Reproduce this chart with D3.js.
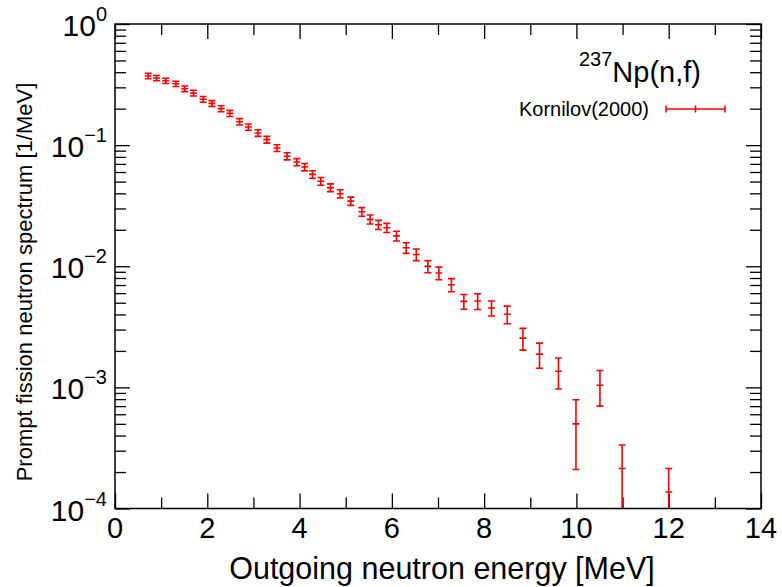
<!DOCTYPE html>
<html><head><meta charset="utf-8">
<script src="https://cdn.jsdelivr.net/npm/d3@7"></script>
<style>
body{margin:0;background:#fff}
svg text{font-family:"Liberation Sans",Arial,Helvetica,sans-serif;fill:#000}
</style></head><body>
<svg id="chart" width="782" height="587"></svg>
<script>
// Kornilov(2000) 237Np(n,f) prompt fission neutron spectrum
const energy = [0.72,0.90,1.10,1.32,1.51,1.70,1.91,2.10,2.30,2.49,2.70,2.89,3.10,3.29,3.51,3.73,3.94,4.11,4.28,4.46,4.67,4.88,5.11,5.35,5.53,5.71,5.89,6.10,6.31,6.53,6.78,7.02,7.29,7.56,7.86,8.16,8.50,8.84,9.20,9.61,9.99,10.51,10.99,12.00];
const spectrum = [0.372,0.358,0.340,0.321,0.292,0.269,0.239,0.221,0.200,0.183,0.156,0.141,0.126,0.111,0.0946,0.0810,0.0725,0.0659,0.0574,0.0503,0.0446,0.0397,0.0345,0.0282,0.0244,0.0220,0.0208,0.0178,0.0142,0.0125,0.00998,0.00879,0.00703,0.00513,0.00516,0.00452,0.00402,0.00255,0.00188,0.00136,0.000500,0.00104,0.000214,0.000137];
const spectrumErr = [0.019,0.018,0.017,0.016,0.0155,0.0148,0.0131,0.0122,0.0114,0.0106,0.0094,0.0085,0.0078,0.0072,0.0061,0.0055,0.0049,0.0046,0.0041,0.0037,0.0033,0.0031,0.0027,0.0023,0.0021,0.0019,0.0018,0.00166,0.00142,0.00138,0.00115,0.00105,0.00088,0.00072,0.00077,0.00064,0.00067,0.00052,0.00044,0.00039,0.00029,0.00034,0.00012,0.000077];
const xTicks = [0,2,4,6,8,10,12,14];
const xMinor = [1,3,5,7,9,11,13];
const yDecades = [1e-4,1e-3,1e-2,1e-1,1];
const seriesName = "Kornilov(2000)";

const W = 782, H = 587;
const L = 115, R = 761, T = 24, B = 508.5;
const RED = "#ff0000";

const x = d3.scaleLinear().domain([0, 14]).range([L, R]);
const y = d3.scaleLog().domain([1e-4, 1]).range([B, T]);

const svg = d3.select("#chart");

// minor y ticks 2..9 per decade
const yMinor = [];
yDecades.slice(0, -1).forEach(d => { for (let k = 2; k <= 9; k++) yMinor.push(d * k); });

function tickAxis(gen, vals, size, tr) {
  const g = svg.append("g").attr("transform", tr)
    .call(gen.tickValues(vals).tickSize(-size).tickFormat(""));
  g.select(".domain").remove();
  g.selectAll("line").attr("stroke", "#000").attr("stroke-width", 1.3);
  return g;
}
// mirrored ticks on all four sides
tickAxis(d3.axisBottom(x), xTicks, 15, `translate(0,${B})`);
tickAxis(d3.axisBottom(x), xMinor, 11, `translate(0,${B})`);
tickAxis(d3.axisTop(x), xTicks, 15, `translate(0,${T})`);
tickAxis(d3.axisTop(x), xMinor, 11, `translate(0,${T})`);
tickAxis(d3.axisLeft(y), yDecades, 15, `translate(${L},0)`);
tickAxis(d3.axisLeft(y), yMinor, 11, `translate(${L},0)`);
tickAxis(d3.axisRight(y), yDecades, 15, `translate(${R},0)`);
tickAxis(d3.axisRight(y), yMinor, 11, `translate(${R},0)`);

// x tick labels
svg.append("g").selectAll("text").data(xTicks).join("text")
  .attr("x", d => x(d)).attr("y", B + 29)
  .attr("text-anchor", "middle").attr("font-size", 29)
  .text(d => d);

// y tick labels 10^n
const yl = svg.append("g").selectAll("text").data(yDecades).join("text")
  .attr("x", 107).attr("y", d => y(d) + 12)
  .attr("text-anchor", "end").attr("font-size", 30);
yl.append("tspan").text("10");
yl.append("tspan").attr("font-size", 20).attr("dy", -15)
  .text(d => { const e = Math.round(Math.log10(d)); return e < 0 ? "\u2212" + (-e) : e; });

// error bars
const clip = svg.append("clipPath").attr("id", "plotclip");
clip.append("rect").attr("x", L).attr("y", T).attr("width", R - L).attr("height", B - T);

const pts = energy.map((e, i) => ({e, v: spectrum[i], err: spectrumErr[i]}));
const cap = 3.5;
const marks = svg.append("g").attr("clip-path", "url(#plotclip)")
  .selectAll("g").data(pts).join("g")
  .attr("stroke", RED).attr("stroke-width", 1.6).attr("fill", "none");
const yLo = d => y(Math.max(d.v - d.err, 1e-6));
const yHi = d => y(d.v + d.err);
marks.append("line").attr("x1", d => x(d.e)).attr("x2", d => x(d.e))
  .attr("y1", yLo).attr("y2", yHi);
marks.append("line").attr("x1", d => x(d.e) - cap).attr("x2", d => x(d.e) + cap)
  .attr("y1", yHi).attr("y2", yHi);
marks.append("line").attr("x1", d => x(d.e) - cap).attr("x2", d => x(d.e) + cap)
  .attr("y1", yLo).attr("y2", yLo);
marks.append("line").attr("x1", d => x(d.e) - cap).attr("x2", d => x(d.e) + cap)
  .attr("y1", d => y(d.v)).attr("y2", d => y(d.v));

// frame
svg.append("rect").attr("x", L).attr("y", T).attr("width", R - L).attr("height", B - T)
  .attr("fill", "none").attr("stroke", "#000").attr("stroke-width", 1.5);

// title
const title = svg.append("text").attr("x", 701).attr("y", 82).attr("text-anchor", "end").attr("font-size", 29);
title.append("tspan").attr("font-size", 20).attr("dy", -16).text("237");
title.append("tspan").attr("dy", 16).text("Np(n,f)");

// legend
svg.append("text").attr("x", 649).attr("y", 116).attr("text-anchor", "end")
  .attr("font-size", 20).text(seriesName);
const lg = svg.append("g").attr("stroke", RED).attr("stroke-width", 1.6);
lg.append("line").attr("x1", 666).attr("x2", 725).attr("y1", 109).attr("y2", 109);
[666, 725].forEach(px => lg.append("line").attr("x1", px).attr("x2", px).attr("y1", 109 - cap).attr("y2", 109 + cap));
lg.append("line").attr("x1", 695.5).attr("x2", 695.5).attr("y1", 109 - cap).attr("y2", 109 + cap);

// axis titles
svg.append("text").attr("x", 442).attr("y", 579).attr("text-anchor", "middle")
  .attr("font-size", 30.5).text("Outgoing neutron energy [MeV]");
svg.append("text").attr("transform", "translate(32,282) rotate(-90)").attr("text-anchor", "middle")
  .attr("font-size", 22).text("Prompt fission neutron spectrum [1/MeV]");
</script>
</body></html>
